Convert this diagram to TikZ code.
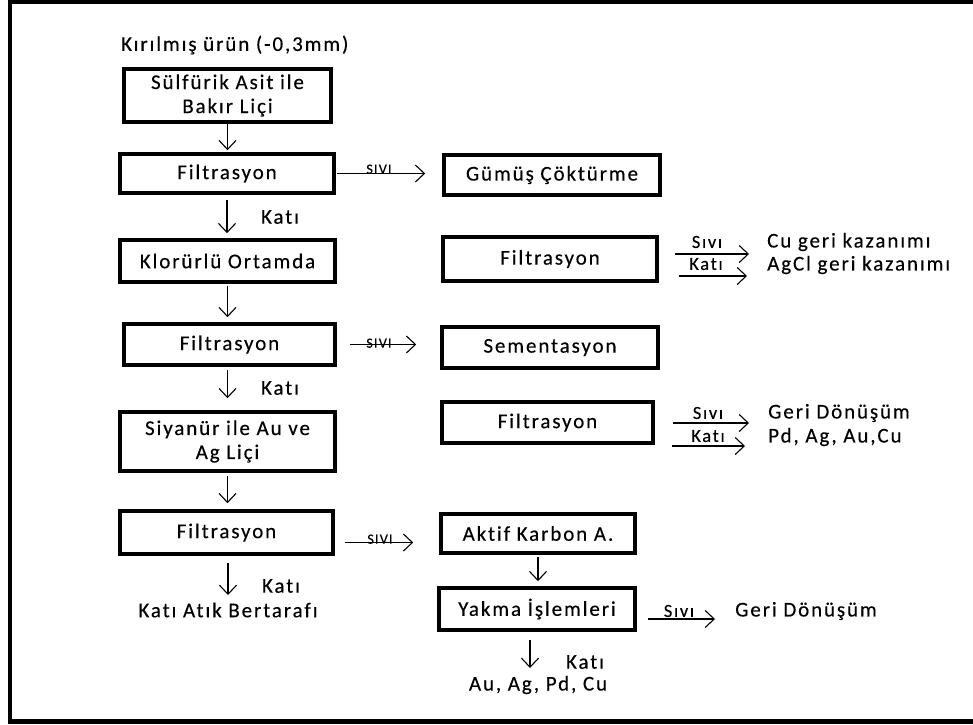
\documentclass[tikz,border=0pt]{standalone}
\usepackage{fontspec}
\setmainfont{Carlito}[LetterSpace=9,Ligatures=NoCommon,FakeBold=0.3]
\usetikzlibrary{arrows.meta}
\begin{document}
\begin{tikzpicture}[x=1pt,y=-1pt,
  proc/.style={draw, line width=3.6pt, inner sep=0pt, align=center,
    font=\fontsize{21}{24}\selectfont},
  lbl/.style={inner sep=0pt, font=\fontsize{21}{24}\selectfont},
  sidelbl/.style={inner sep=0pt, font=\fontsize{18.5}{20}\selectfont},
  tinylbl/.style={inner sep=0pt, anchor=south, font=\fontsize{14}{14}\selectfont},
  flow/.style={line width=1.1pt,
    -{Straight Barb[length=9pt,width=17pt,line width=1.1pt]}}]
\useasboundingbox (0,0) rectangle (973,724);

% outer frame
\draw[line width=4.5pt] (973,2) -- (10,2) -- (10,721.5) -- (973,721.5);

% input
\node[lbl, anchor=west] (input) at (121,45) {Kırılmış ürün (-0,3mm)};

% process boxes, left column
\node[proc, minimum width=207pt, minimum height=53pt] (leach1) at (227.5,95.5) {Sülfürik Asit ile\\Bakır Liçi};
\node[proc, minimum width=214pt, minimum height=39pt] (filt1) at (227,173.5) {Filtrasyon};
\node[proc, minimum width=215pt, minimum height=42pt] (chlor) at (227.5,261) {Klorürlü Ortamda};
\node[proc, minimum width=211pt, minimum height=41pt] (filt3) at (229.5,344.5) {Filtrasyon};
\node[proc, minimum width=215pt, minimum height=59pt] (cyan) at (227.5,441.5) {Siyanür ile Au ve\\Ag Liçi};
\node[proc, minimum width=213pt, minimum height=43pt] (filt5) at (226.5,532.5) {Filtrasyon};

% process boxes, right column
\node[proc, minimum width=216pt, minimum height=40pt] (silver) at (552,175) {Gümüş Çöktürme};
\node[proc, minimum width=214pt, minimum height=44pt] (filt2) at (550,259) {Filtrasyon};
\node[proc, minimum width=216pt, minimum height=41pt] (cement) at (550,347.5) {Sementasyon};
\node[proc, minimum width=211pt, minimum height=41pt] (filt4) at (547.5,422.5) {Filtrasyon};
\node[proc, minimum width=194pt, minimum height=39pt] (carbon) at (538,533.5) {Aktif Karbon A.};
\node[proc, minimum width=196pt, minimum height=42pt] (burn) at (537,609) {Yakma İşlemleri};

% main column flow
\draw[flow, shorten >=2pt] (leach1.south) -- (leach1.south |- filt1.north);
\draw[flow, shorten <=5pt, shorten >=5pt] (filt1.south) -- (filt1.south |- chlor.north);
\node[lbl] (k1) at (280,217) {Katı};
\draw[flow, shorten <=2pt, shorten >=5pt] (chlor.south) -- (chlor.south |- filt3.north);
\draw[flow, shorten <=3pt, shorten >=12pt] (cyan.north |- filt3.south) -- (cyan.north);
\node[lbl] (k2) at (280,388) {Katı};
\draw[flow, shorten <=3pt, shorten >=6pt] (cyan.south) -- (cyan.south |- filt5.north);
\coordinate (waste) at (228,595);
\draw[flow, shorten <=7pt] (filt5.south -| waste) -- (waste);
\node[lbl] (k3) at (281,586) {Katı};
\node[lbl] (wastetxt) at (228,610) {Katı Atık Bertarafı};

% liquid branches to the right column
\draw[flow, shorten <=1pt, shorten >=17pt] (filt1.east) -- (filt1.east -| silver.west);
\node[tinylbl] (s1) at (379,174) {SIVI};
\draw[flow, shorten <=13pt, shorten >=24pt] (filt3.east) -- (filt3.east -| cement.west);
\node[tinylbl] (s2) at (379,348) {SIVI};
\draw[flow, shorten <=10pt, shorten >=26pt] ([yshift=-10pt]filt5.east) -- ([yshift=-10pt]filt5.east -| carbon.west);
\node[tinylbl] (s3) at (380,544) {SIVI};

% outputs of the second filtration
\coordinate (cuend) at (749,254);
\coordinate (agend) at (747,276);
\draw[flow, shorten <=16pt] (filt2.east |- cuend) -- (cuend);
\draw[flow, shorten <=20pt] (filt2.east |- agend) -- (agend);
\node[sidelbl] (s4) at (707,242) {Sıvı};
\node[sidelbl] (k4) at (706,264) {Katı};
\node[lbl, anchor=west] (cuout) at (767,242) {Cu geri kazanımı};
\node[lbl, anchor=west] (agout) at (767,265) {AgCl geri kazanımı};

% outputs of the fourth filtration
\coordinate (recend) at (749,423);
\coordinate (pdend) at (745,446);
\draw[flow, shorten <=18pt] (filt4.east |- recend) -- (recend);
\draw[flow, shorten <=17pt] (filt4.east |- pdend) -- (pdend);
\node[sidelbl] (s5) at (708,413) {Sıvı};
\node[sidelbl] (k5) at (708,436) {Katı};
\node[lbl, anchor=west] (recout) at (768,413) {Geri Dönüşüm};
\node[lbl, anchor=west] (pdout) at (768,437) {Pd, Ag, Au,Cu};

% carbon adsorption and burning
\draw[flow, shorten <=2pt, shorten >=5pt] (carbon.south) -- (carbon.south |- burn.north);
\coordinate (recyc) at (715,619);
\draw[flow, shorten <=11pt] (burn.east |- recyc) -- (recyc);
\node[sidelbl] (s6) at (679,611) {Sıvı};
\node[lbl, anchor=west] (recyctxt) at (735,611) {Geri Dönüşüm};
\coordinate (metals) at (530,668);
\draw[flow, shorten <=8pt] (burn.south -| metals) -- (metals);
\node[lbl] (k6) at (585,662) {Katı};
\node[lbl] (metaltxt) at (538,685) {Au, Ag, Pd, Cu};
\end{tikzpicture}
\end{document}
